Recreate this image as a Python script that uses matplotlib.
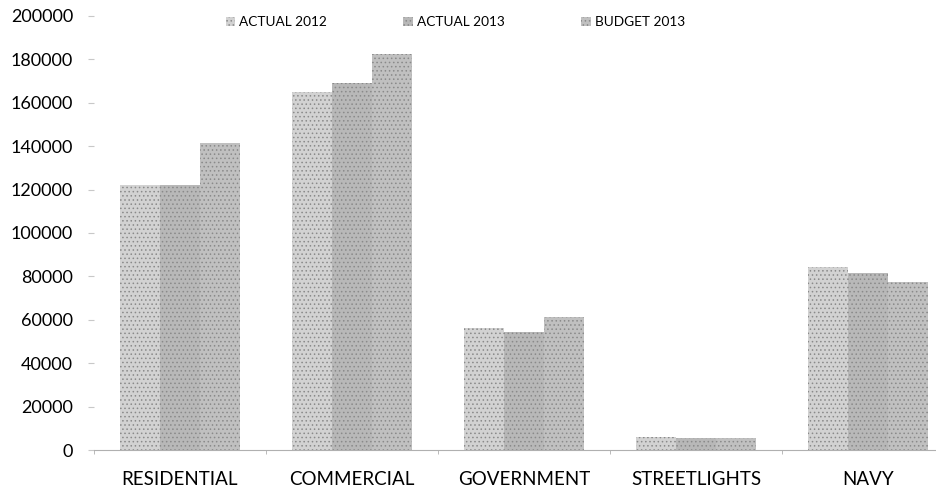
import numpy as np
import matplotlib
matplotlib.use("Agg")
from matplotlib import pyplot as plt

categories = ["RESIDENTIAL", "COMMERCIAL", "GOVERNMENT", "STREETLIGHTS", "NAVY"]
actual_2012 = [122000, 165000, 56000, 5800, 84300]
actual_2013 = [122000, 169000, 54500, 5600, 81500]
budget_2013 = [141500, 182500, 61500, 5400, 77400]
series_names = ["ACTUAL 2012", "ACTUAL 2013", "BUDGET 2013"]
yticks = list(range(0, 200001, 20000))

plt.rcParams['font.family'] = ['Lato', 'DejaVu Sans']
plt.rcParams['hatch.linewidth'] = 0.6

fig = plt.figure(figsize=(9.36, 4.95), dpi=100)
ax = fig.add_axes([0.1004, 0.0909, 0.919, 0.8768])

x = np.arange(len(categories))
w = 0.233
colors = ["#d2d2d2", "#b8b8b8", "#c0c0c0"]
for i, (vals, name) in enumerate(zip([actual_2012, actual_2013, budget_2013], series_names)):
    ax.bar(x + (i - 1) * w, vals, w, color=colors[i], label=name,
           hatch="....", edgecolor="#8a8a8a", linewidth=0)

ax.set_xlim(-0.5, len(categories) - 0.5)
ax.set_ylim(0, 200000)
ax.set_yticks(yticks)
ax.set_yticklabels([str(v) for v in yticks], fontsize=13)
ax.set_xticks(x)
ax.set_xticklabels(categories, fontsize=13.5)
ax.set_xticks(np.arange(len(categories) + 1) - 0.5, minor=True)

for s in ["top", "right", "left"]:
    ax.spines[s].set_visible(False)
ax.spines["bottom"].set_color("#b0b0b0")
ax.spines["bottom"].set_linestyle((0, (2, 1)))
ax.spines["bottom"].set_linewidth(0.8)

ax.tick_params(axis="y", length=4, color="#c8c8c8", pad=11)
ax.tick_params(axis="x", which="major", length=0, pad=15)
ax.tick_params(axis="x", which="minor", length=3, color="#b0b0b0")

ax.legend(loc="center", bbox_to_anchor=(0.42, 0.985), ncol=3, frameon=False,
          fontsize=9.8, handlelength=0.7, handleheight=0.7, handletextpad=0.3,
          columnspacing=5.6)

fig.savefig("out.png", dpi=100)
